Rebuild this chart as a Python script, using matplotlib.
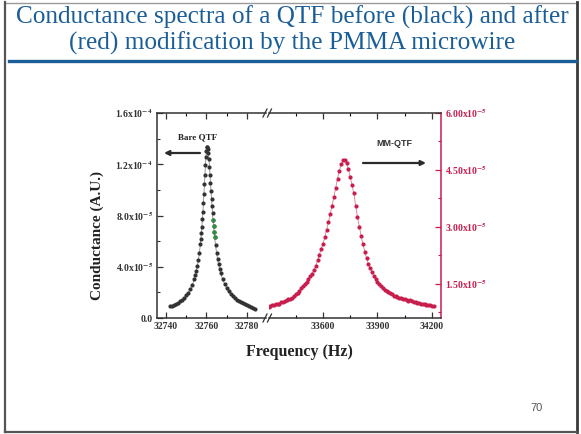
import matplotlib
matplotlib.use("Agg")
import matplotlib.pyplot as plt
import numpy as np
from matplotlib.lines import Line2D
from matplotlib.ticker import FixedLocator, FuncFormatter

plt.rcParams["mathtext.fontset"] = "stix"

# Bare QTF sweep: frequency (Hz) and conductance (x1e-4 A.U.)
bare_freq = [32742, 32743, 32744, 32745, 32746, 32747, 32748, 32749, 32750, 32751,
             32752, 32753, 32754, 32754.5, 32755, 32755.5, 32756, 32756.5, 32757,
             32757.25, 32757.5, 32757.75, 32758, 32758.25, 32758.5, 32758.75, 32759,
             32759.25, 32759.5, 32759.75, 32760, 32760.25, 32760.5, 32760.75, 32761,
             32761.25, 32761.5, 32761.75, 32762, 32762.25, 32762.5, 32762.75, 32763,
             32763.25, 32763.5, 32763.75, 32764, 32764.5, 32765, 32765.5, 32766,
             32766.5, 32767, 32768, 32769, 32770, 32771, 32772, 32773, 32774, 32775,
             32776, 32777, 32778, 32779, 32780, 32781, 32782, 32783, 32784]
bare_g = [0.090, 0.096, 0.103, 0.111, 0.120, 0.131, 0.143, 0.158, 0.176, 0.198,
          0.225, 0.259, 0.305, 0.333, 0.366, 0.405, 0.452, 0.509, 0.579,
          0.619, 0.664, 0.714, 0.769, 0.830, 0.896, 0.967, 1.042,
          1.118, 1.191, 1.255, 1.304, 1.332, 1.336, 1.319, 1.285,
          1.238, 1.182, 1.119, 1.055, 0.991, 0.929, 0.871, 0.816,
          0.765, 0.718, 0.675, 0.636, 0.567, 0.509, 0.460, 0.418,
          0.383, 0.352, 0.302, 0.264, 0.233, 0.208, 0.187, 0.170, 0.156, 0.143,
          0.133, 0.123, 0.114, 0.106, 0.098, 0.091, 0.085, 0.079, 0.074]

# MM-QTF sweep: 10 Hz steps from 33280 Hz, conductance (x1e-5 A.U.)
mm_start, mm_step = 33280, 10
mm_g = [0.86, 0.88, 0.88, 0.91, 0.93, 0.93, 0.96, 0.98, 0.98, 1.01,
        1.03, 1.04, 1.07, 1.10, 1.11, 1.14, 1.18, 1.22, 1.27, 1.32,
        1.38, 1.44, 1.50, 1.56, 1.63, 1.70, 1.77, 1.86, 1.97, 2.12,
        2.27, 2.41, 2.55, 2.73, 2.92, 3.12, 3.34, 3.56, 3.79, 4.03,
        4.27, 4.48, 4.65, 4.75, 4.76, 4.67, 4.52, 4.32, 4.10, 3.88,
        3.56, 3.26, 3.01, 2.77, 2.54, 2.35, 2.18, 2.03, 1.92, 1.80,
        1.70, 1.62, 1.56, 1.49, 1.44, 1.40, 1.35, 1.31, 1.28, 1.26,
        1.22, 1.19, 1.18, 1.15, 1.14, 1.13, 1.10, 1.10, 1.08, 1.06,
        1.07, 1.04, 1.03, 1.03, 1.00, 1.00, 0.98, 0.97, 0.97, 0.95,
        0.94, 0.94, 0.92, 0.91]

left_ticks = [0.0, 0.4e-4, 0.8e-4, 1.2e-4, 1.6e-4]
right_ticks = [1.5e-5, 3.0e-5, 4.5e-5, 6.0e-5]
left_xticks = [32740, 32760, 32780]
right_xticks = [33600, 33900, 34200]

W, H = 581, 434
BLACK = "#333333"
RED = "#c81e4e"
GREEN = "#2f8f3f"
BLUE = "#1b5e97"


def fx(x):
    return x / W


def fy(y):
    return 1 - y / H


fig = plt.figure(figsize=(W / 100, H / 100), dpi=100)
fig.patch.set_facecolor("white")

# slide frame
frame = dict(color="#555555", lw=1.6)
fig.add_artist(Line2D([fx(5), fx(577)], [fy(2.5), fy(2.5)], color="#9a9a9a", lw=1.0))
fig.add_artist(Line2D([fx(5), fx(5)], [fy(2), fy(432)], **frame))
fig.add_artist(Line2D([fx(577), fx(577)], [fy(2), fy(432)], color="#3a3a3a", lw=2.0))
fig.add_artist(Line2D([fx(5), fx(577)], [fy(432), fy(432)], **frame))
fig.add_artist(Line2D([fx(9), fx(576)], [fy(61), fy(61)], color=BLUE, lw=2.4))

title_kw = dict(ha="center", va="center", fontsize=18.2, family="Liberation Serif", color=BLUE)
fig.text(fx(292), fy(17), "Conductance spectra of a QTF before (black) and after", **title_kw)
fig.text(fx(292), fy(43), "(red) modification by the PMMA microwire", **title_kw)
fig.text(fx(537), fy(408), "70", ha="center", va="center", fontsize=8,
         family="Liberation Sans", color="#555555")

axL = fig.add_axes([fx(157), fy(318), fx(109), 205 / H])
axR = fig.add_axes([fx(268.5), fy(318), fx(172.5), 205 / H])

bf = np.array(bare_freq)
bg = np.array(bare_g) * 1e-4
axL.plot(bf, bg, color="#8a8a8a", lw=0.6, zorder=2)
axL.plot(bf, bg, ls="none", marker="o", ms=3.0, mec="none", mfc=BLACK, zorder=3)
f_peak = bf[np.argmax(bg)]
hl = (bf > f_peak) & (bg >= 0.63e-4) & (bg <= 0.77e-4)
axL.plot(bf[hl], bg[hl], ls="none", marker="o", ms=3.0, mec="none", mfc=GREEN, zorder=4)

mf = mm_start + mm_step * np.arange(len(mm_g))
mg = np.array(mm_g) * 1e-5
axR.plot(mf, mg, color=RED, lw=0.6, alpha=0.6, zorder=2)
axR.plot(mf, mg, ls="none", marker="o", ms=3.0, mec="none", mfc=RED, zorder=3)

axL.set_xlim(32735.5, 32789.5)
axL.set_ylim(0, 1.6e-4)
axR.set_xlim(33300, 34250)
axR.set_ylim(0.6e-5, 6.0e-5)

for ax in (axL, axR):
    ax.set_facecolor("none")
    for s in ax.spines.values():
        s.set_color(BLACK)
        s.set_linewidth(1.1)
axL.spines["right"].set_visible(False)
axR.spines["left"].set_visible(False)
axR.spines["right"].set_color(RED)


def left_fmt(v, pos):
    if abs(v) < 1e-12:
        return "0.0"
    e = int(np.floor(np.log10(v) + 1e-9))
    return "%.1fx10$^{\\mathbf{%d}}$" % (v / 10 ** e, e)


def right_fmt(v, pos):
    return "%.2fx10$^{\\mathbf{-5}}$" % (v / 1e-5)


tick_font = dict(family="Liberation Serif", weight="bold", size=7)

axL.yaxis.set_major_locator(FixedLocator(left_ticks))
axL.yaxis.set_minor_locator(FixedLocator([0.2e-4, 0.6e-4, 1.0e-4, 1.4e-4]))
axL.yaxis.set_major_formatter(FuncFormatter(left_fmt))
axL.xaxis.set_major_locator(FixedLocator(left_xticks))
axL.xaxis.set_minor_locator(FixedLocator([32750, 32770]))

axR.yaxis.tick_right()
axR.yaxis.set_major_locator(FixedLocator(right_ticks))
axR.yaxis.set_minor_locator(FixedLocator([0.75e-5, 2.25e-5, 3.75e-5, 5.25e-5]))
axR.yaxis.set_major_formatter(FuncFormatter(right_fmt))
axR.xaxis.set_major_locator(FixedLocator(right_xticks))
axR.xaxis.set_minor_locator(FixedLocator([33450, 33750, 34050]))

for ax in (axL, axR):
    ax.tick_params(which="both", direction="in", top=True, labeltop=False)
    ax.tick_params(which="major", length=4, width=0.9, pad=3)
    ax.tick_params(which="minor", length=2.5, width=0.8)
    ax.tick_params(axis="x", colors=BLACK)
    for lab in ax.get_xticklabels() + ax.get_yticklabels():
        lab.set_fontproperties(matplotlib.font_manager.FontProperties(**tick_font))
axL.tick_params(axis="y", which="both", left=True, right=False, colors=BLACK)
axR.tick_params(axis="y", which="both", left=False, right=True, colors=RED)

# axis-break marks
for yb in (113, 318):
    for xb in (265, 269.5):
        fig.add_artist(Line2D([fx(xb - 2), fx(xb + 2)], [fy(yb + 4), fy(yb - 4)],
                              color=BLACK, lw=0.9))

fig.text(fx(97), fy(236), "Conductance (A.U.)", rotation=90, ha="center", va="center",
         family="Liberation Serif", weight="bold", fontsize=11, color="#222222")
fig.text(fx(299), fy(352), "Frequency (Hz)", ha="center", va="center",
         family="Liberation Serif", weight="bold", fontsize=11.5, color="#222222")

# curve labels with direction arrows
fig.text(fx(198), fy(137), "Bare QTF", ha="center", va="center",
         family="Liberation Serif", weight="bold", fontsize=6.5, color="#222222")
fig.text(fx(394), fy(144), "MM-QTF", ha="center", va="center",
         family="Liberation Sans", weight="bold", fontsize=6.5, color="#333333")
arrow_kw = dict(arrowstyle="-|>", lw=1.6, color="#2b2b2b", mutation_scale=7,
                shrinkA=0, shrinkB=0)
fig.add_artist(matplotlib.patches.FancyArrowPatch((fx(200), fy(153)), (fx(164), fy(153)),
                                                  transform=fig.transFigure, **arrow_kw))
fig.add_artist(matplotlib.patches.FancyArrowPatch((fx(363), fy(163)), (fx(426), fy(163)),
                                                  transform=fig.transFigure, **arrow_kw))

fig.savefig("out.png", dpi=100)
